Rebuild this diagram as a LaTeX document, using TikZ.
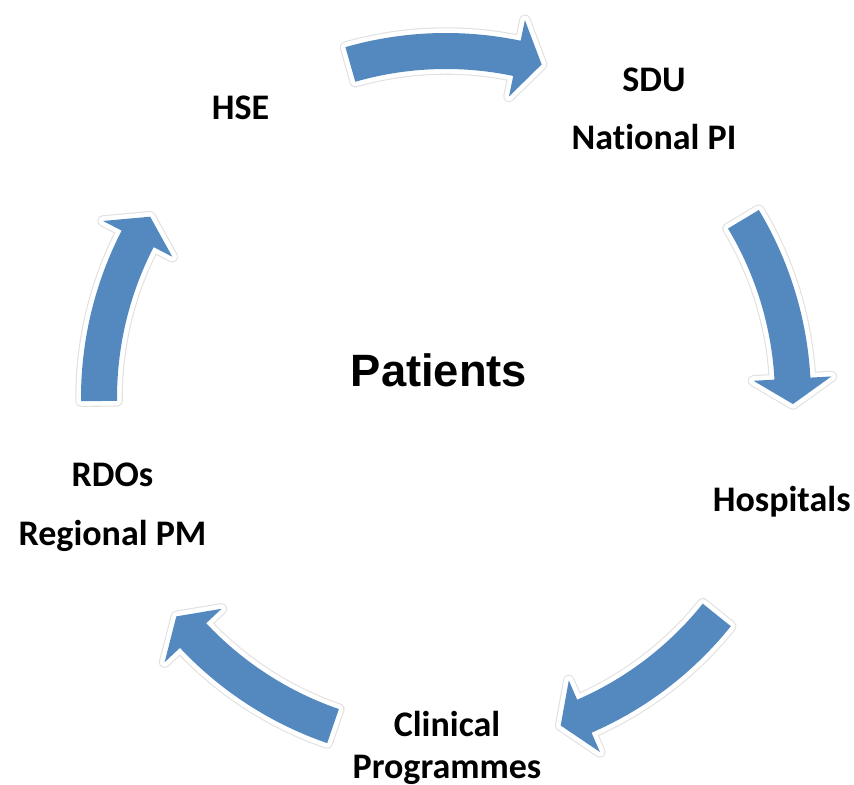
\documentclass[tikz,border=0pt]{standalone}
\usepackage{fontspec}
\setmainfont[Ligatures=NoCommon]{Carlito}
\newfontfamily\hubfont{Liberation Sans}
\usepackage{tikz}

\definecolor{cycleblue}{RGB}{84,137,192}

\begin{document}
\begin{tikzpicture}[x=0.75pt, y=0.75pt,
    cycle arrow/.style={preaction={draw=black!12, line width=8.6pt, line join=round}, draw=white, line width=7pt, line join=round, postaction={fill=cycleblue}},
    stage/.style={font=\fontsize{27}{31.5}\selectfont\bfseries, align=center, anchor=base},
    hub/.style={font=\hubfont\fontsize{34}{40}\selectfont\bfseries, anchor=base}]
            \useasboundingbox (-446,-387) rectangle (408,398);

            % block arrows round the cycle
            \foreach \c in {90,15,-54.7,-125,164.5}
                \path[cycle arrow] ({\c+16}:365) arc[start angle=\c+16, end angle=\c-11.8, radius=365]
                    -- ({\c-11.8}:386) -- ({\c-16}:347) -- ({\c-11.8}:308) -- ({\c-11.8}:329)
                    arc[start angle=\c-11.8, end angle=\c+16, radius=329] -- cycle;

            % base anchor of a two-line node sits on its last line
            \node[hub] (patients) at (-7,11.3) {Patients};
            \node[stage] (hse) at (-205.5,278.7) {HSE};
            \node[stage] (sdu) at (208,248) {SDU\\[12.2pt]National PI};
            \node[stage] (hospitals) at (335.7,-113.7) {Hospitals};
            \node[stage] (clinical) at (1,-380) {Clinical\\Programmes};
            \node[stage] (rdos) at (-333.5,-147) {RDOs\\[12.2pt]Regional PM};
        \end{tikzpicture}
\end{document}
